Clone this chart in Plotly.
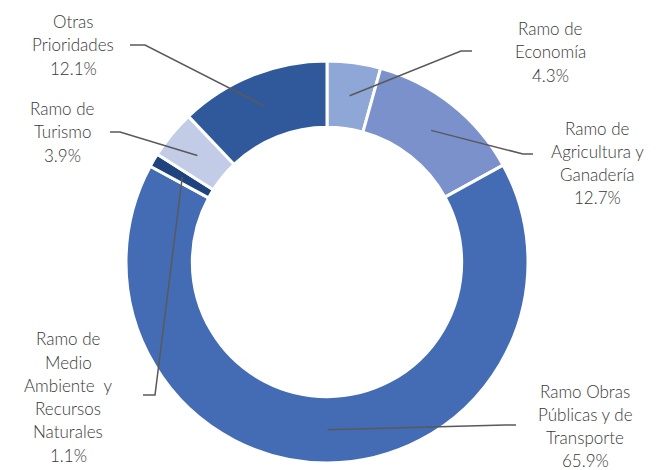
"""Donut chart: distribucion por ramo"""
import math
import plotly.graph_objects as go

labels = ['Ramo de Economía', 'Ramo de Agricultura y Ganadería',
          'Ramo Obras Públicas y de Transporte',
          'Ramo de Medio Ambiente y Recursos Naturales',
          'Ramo de Turismo', 'Otras Prioridades']
values = [4.3, 12.7, 65.9, 1.1, 3.9, 12.1]
colors = ['#8FA7D6', '#7B91CB', '#436CB4', '#1F437F', '#C2CCE6', '#30599B']

# label text lines (as shown in the chart)
label_lines = [
    ['Ramo de', 'Economía'],
    ['Ramo de', 'Agricultura y', 'Ganadería'],
    ['Ramo Obras', 'Públicas y de', 'Transporte'],
    ['Ramo de', 'Medio', 'Ambiente  y', 'Recursos', 'Naturales'],
    ['Ramo de', 'Turismo'],
    ['Otras', 'Prioridades'],
]

W, H = 656, 470
CX, CY = 327, 262
R_OUT, HOLE = 201, 0.67
R_MID = R_OUT * (1 + HOLE) / 2

# label block centres (px) and leader line start/elbow (px)
label_pos = [(550, 52), (597, 163), (585, 426), (68, 397), (62, 132), (73, 45)]
leader_start = [(472, 51), (533, 154), (516, 425), (143, 395), (110, 132), (130, 45)]
leader_elbow = [(461, 51), (523, 154), (505, 425), (155, 395), (120, 132), (145, 45)]

LINE_H = 23.3


def px(x, y):
    return x / W, 1 - y / H


fig = go.Figure()

fig.add_trace(go.Pie(
    labels=labels,
    values=values,
    hole=HOLE,
    sort=False,
    direction='clockwise',
    rotation=0,
    marker=dict(colors=colors, line=dict(color='white', width=3)),
    textinfo='none',
    hoverinfo='label+percent',
    domain=dict(x=[(CX - R_OUT) / W, (CX + R_OUT) / W],
                y=[1 - (CY + R_OUT) / H, 1 - (CY - R_OUT) / H]),
    showlegend=False,
))

total = sum(values)
cum = 0
shapes = []
annotations = []
for i, v in enumerate(values):
    mid = (cum + v / 2) / total * 2 * math.pi
    cum += v
    ax = CX + R_MID * math.sin(mid)
    ay = CY - R_MID * math.cos(mid)

    pts = [px(*leader_start[i]), px(*leader_elbow[i]), px(ax, ay)]
    path = 'M {} {} L {} {} L {} {}'.format(*[c for p in pts for c in p])
    shapes.append(dict(type='path', path=path, xref='paper', yref='paper',
                       line=dict(color='#595959', width=1.5)))

    lines = label_lines[i] + ['{:.1f}%'.format(v)]
    n = len(lines)
    lx, ly = label_pos[i]
    for j, t in enumerate(lines):
        x, y = px(lx, ly + (j - (n - 1) / 2) * LINE_H)
        annotations.append(dict(
            x=x, y=y, xref='paper', yref='paper', text=t, showarrow=False,
            xanchor='center', yanchor='middle',
            font=dict(family='Lato', size=17, color='#383838', weight=300),
        ))

fig.update_layout(
    width=W,
    height=H,
    margin=dict(l=0, r=0, t=0, b=0),
    paper_bgcolor='white',
    plot_bgcolor='white',
    shapes=shapes,
    annotations=annotations,
)

# page body margin would offset the fixed-size figure
fig.write_html("out.html", config={'displayModeBar': False},
               post_script="document.body.style.margin='0px';")
